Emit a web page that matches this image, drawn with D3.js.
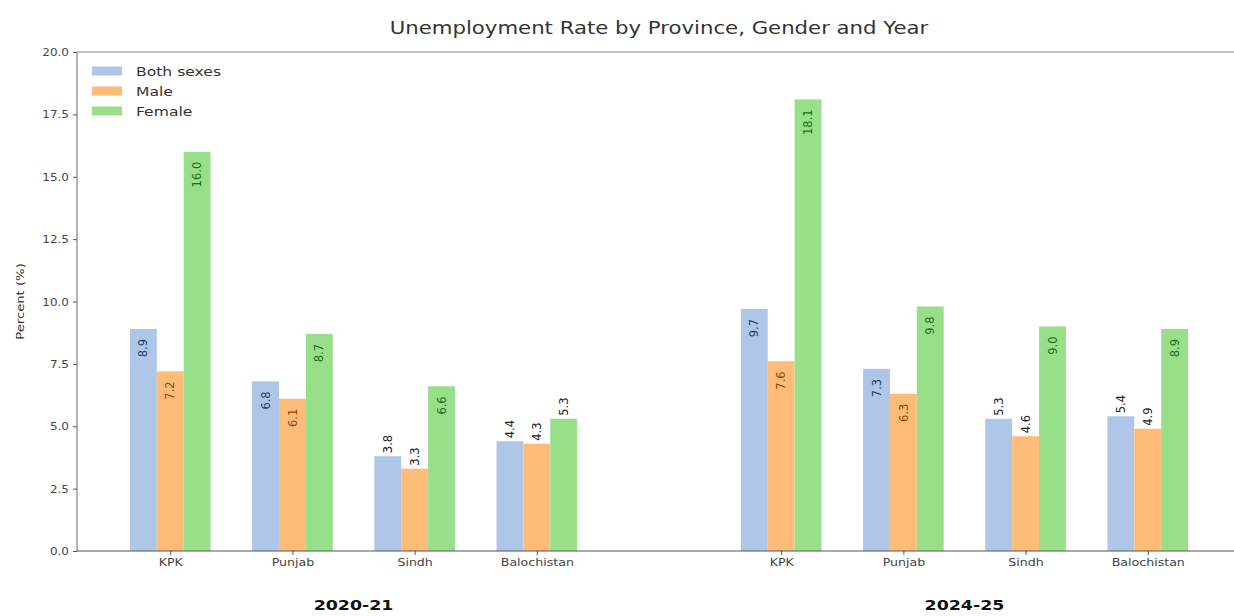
<!DOCTYPE html>
<html><head><meta charset="utf-8">
<script src="https://cdn.jsdelivr.net/npm/d3@7"></script>
<style>body{margin:0;background:#fff}svg{display:block}text{font-family:"DejaVu Sans",sans-serif}</style>
</head><body><svg id="chart" width="1234" height="616"></svg>
<script>
// ---- data ----
const years = ["2020-21", "2024-25"];
const provinces = ["KPK", "Punjab", "Sindh", "Balochistan"];
const seriesNames = ["Both sexes", "Male", "Female"];
const bothSexes = [8.9, 6.8, 3.8, 4.4, 9.7, 7.3, 5.3, 5.4];
const male      = [7.2, 6.1, 3.3, 4.3, 7.6, 6.3, 4.6, 4.9];
const female    = [16.0, 8.7, 6.6, 5.3, 18.1, 9.8, 9.0, 8.9];
const yTicks = [0, 2.5, 5, 7.5, 10, 12.5, 15, 17.5, 20];
const title = "Unemployment Rate by Province, Gender and Year";
const yLabel = "Percent (%)";

// ---- layout ----
const SX = 1.2;
const svg = d3.select("#chart");
const L = 77, R = 1241, T = 52, B = 551;
const slots = [];
years.forEach((yr, yi) => provinces.forEach((p, pi) => slots.push({year: yr, prov: p, pos: yi * 5 + pi})));
const bw = 0.22;
const x = d3.scaleLinear().domain([-0.763, 8.763]).range([L, R]);
const y = d3.scaleLinear().domain([0, 20]).range([B, T]);
const colors = ["#aec7e8", "#ffbb78", "#98df8a"];
const inColors = ["#1f3d73", "#8c4a0c", "#1d6b1d"];
const series = [bothSexes, male, female];

// bars
const gBars = svg.append("g");
series.forEach((vals, si) => {
  const off = (si - 1) * bw;
  gBars.selectAll(null).data(slots).enter().append("rect")
    .attr("x", d => x(d.pos + off - bw / 2))
    .attr("width", d => x(d.pos + off + bw / 2) - x(d.pos + off - bw / 2))
    .attr("y", (d, i) => y(vals[i]))
    .attr("height", (d, i) => y(0) - y(vals[i]))
    .attr("fill", colors[si]);
});
// value labels
series.forEach((vals, si) => {
  const off = (si - 1) * bw;
  gBars.selectAll(null).data(slots).enter().append("text")
    .attr("transform", (d, i) => {
      const v = vals[i];
      const yy = v >= 6 ? y(v - 0.4) : y(v) - 3;
      return `translate(${x(d.pos + off)},${yy}) rotate(-90)`;
    })
    .attr("text-anchor", (d, i) => vals[i] >= 6 ? "end" : "start")
    .attr("dy", "0.36em")
    .attr("font-size", 11.5)
    .attr("fill", (d, i) => vals[i] >= 6 ? inColors[si] : "#222")
    .text((d, i) => d3.format(".1f")(vals[i]));
});

// axes
const gy = svg.append("g").attr("transform", `translate(${L},0)`)
  .call(d3.axisLeft(y).tickValues(yTicks).tickFormat(d3.format(".1f")).tickSize(4).tickSizeOuter(0));
gy.select(".domain").remove();
gy.selectAll(".tick line").attr("stroke", "#555");
gy.selectAll(".tick text").attr("x", 0).attr("dy", "0.35em")
  .attr("transform", `translate(-8,0) scale(${SX},1)`)
  .attr("font-size", 10).attr("fill", "#444").attr("font-family", "DejaVu Sans");

const gx = svg.append("g").attr("transform", `translate(0,${B})`)
  .call(d3.axisBottom(x).tickValues(slots.map(d => d.pos)).tickFormat((d, i) => slots[i].prov).tickSize(4).tickSizeOuter(0));
gx.select(".domain").remove();
gx.selectAll(".tick line").attr("stroke", "#555");
gx.selectAll(".tick text").attr("y", 0).attr("dy", "0.71em")
  .attr("transform", `translate(0,8) scale(${SX},1)`)
  .attr("font-size", 10.5).attr("fill", "#444").attr("font-family", "DejaVu Sans");

// spines
svg.append("line").attr("x1", L).attr("x2", L).attr("y1", T).attr("y2", B).attr("stroke", "#666");
svg.append("line").attr("x1", L).attr("x2", R).attr("y1", B).attr("y2", B).attr("stroke", "#555");
svg.append("line").attr("x1", L).attr("x2", R).attr("y1", T).attr("y2", T).attr("stroke", "#888");

// y label
svg.append("text").attr("transform", `translate(24,${(T + B) / 2}) rotate(-90) scale(${SX},1)`)
  .attr("text-anchor", "middle").attr("font-size", 11).attr("fill", "#333").text(yLabel);

// title
svg.append("text").attr("transform", `translate(${(L + R) / 2},34) scale(1.18,1)`)
  .attr("text-anchor", "middle").attr("font-size", 18).attr("fill", "#333").text(title);

// year labels
years.forEach((yr, yi) => {
  const ps = slots.filter(s => s.year === yr).map(s => s.pos);
  svg.append("text").attr("transform", `translate(${x(d3.mean(ps))},610) scale(${SX},1)`)
    .attr("text-anchor", "middle").attr("font-size", 14.5).attr("font-weight", "bold").attr("fill", "#111").text(yr);
});

// legend
const lg = svg.append("g").attr("transform", "translate(92,71)");
seriesNames.forEach((n, i) => {
  lg.append("rect").attr("x", 0).attr("y", i * 20 - 4.5).attr("width", 30).attr("height", 9).attr("fill", colors[i]);
  lg.append("text").attr("transform", `translate(44,${i * 20}) scale(${SX},1)`).attr("dy", "0.35em")
    .attr("font-size", 13).attr("fill", "#333").text(n);
});
</script></body></html>
